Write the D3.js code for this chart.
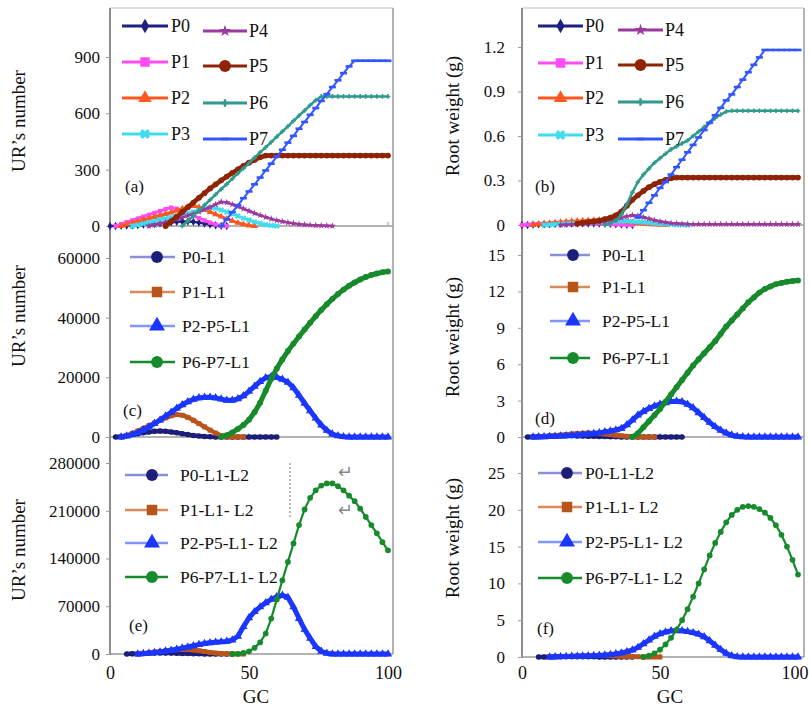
<!DOCTYPE html>
<html><head><meta charset="utf-8">
<script src="https://cdn.jsdelivr.net/npm/d3@7"></script>
<style>
body{margin:0;background:#fff}
text{font-family:"Liberation Serif","Times New Roman",serif;fill:#111}
</style>
</head><body>
<svg id="chart" width="809" height="706"></svg>
<script>
const _ = null;
const gc = [0,2,4,6,8,10,12,14,16,18,20,22,24,26,28,30,32,34,36,38,40,42,44,46,48,50,52,54,56,58,60,62,64,66,68,70,72,74,76,78,80,82,84,86,88,90,92,94,96,98,100];

// Panel (a): UR's number
const aP0 = [0,0,1,2,3,5,7,9,11,14, 17,20,22,24,24,22,18,13,8,4, 1,0,_,_,_,_,_,_,_,_, _,_,_,_,_,_,_,_,_,_, _,_,_,_,_,_,_,_,_,_, _];
const aP1 = [_,0,10,20,30,40,50,60,70,80, 90,98,92,80,68,55,42,30,18,8, 2,0,_,_,_,_,_,_,_,_, _,_,_,_,_,_,_,_,_,_, _,_,_,_,_,_,_,_,_,_, _];
const aP2 = [_,_,0,8,16,24,32,40,48,56, 64,72,82,92,102,106,100,88,75,62, 50,38,27,17,9,3,0,_,_,_, _,_,_,_,_,_,_,_,_,_, _,_,_,_,_,_,_,_,_,_, _];
const aP3 = [_,_,_,_,0,5,12,19,26,33, 40,47,54,61,68,75,83,92,98,95, 85,75,64,53,42,32,22,14,7,3, 0,_,_,_,_,_,_,_,_,_, _,_,_,_,_,_,_,_,_,_, _];
const aP4 = [_,_,_,_,_,_,_,0,5,12, 20,28,36,45,55,65,76,88,100,115, 128,125,115,104,92,80,68,57,47,38, 30,24,18,14,10,7,5,3,2,1, 0,_,_,_,_,_,_,_,_,_, _];
const aP5 = [_,_,_,_,_,_,_,_,_,_, 0,25,50,75,100,125,150,175,200,222, 243,263,283,302,320,337,352,366,375,375, 375,375,375,375,375,375,375,375,375,375, 375,375,375,375,375,375,375,375,375,375, 375];
const aP6 = [_,_,_,_,_,_,_,_,_,_, _,_,_,0,26,55,83,112,139,168, 196,223,252,280,307,335,364,392,419,447, 476,503,531,560,588,615,643,670,690,690, 690,690,690,690,690,690,690,690,690,690, 690];
const aP7 = [_,_,_,_,_,_,_,_,_,_, _,_,_,_,_,_,_,_,_,_, 0,36,74,110,148,184,222,258,296,332, 370,406,444,480,518,554,592,628,666,702, 740,776,814,850,880,880,880,880,880,880, 880];

// Panel (b): root weight (g)
const bP0 = [0,0,0.002,0.004,0.005,0.006,0.007,0.008,0.009,0.01, 0.01,0.01,0.01,0.01,0.009,0.008,0.007,0.005,0.003,0.001, 0,_,_,_,_,_,_,_,_,_, _,_,_,_,_,_,_,_,_,_, _,_,_,_,_,_,_,_,_,_, _];
const bP1 = [0,0.003,0.006,0.008,0.01,0.012,0.013,0.014,0.015,0.015, 0.015,0.014,0.013,0.012,0.01,0.008,0.006,0.004,0.002,0.001, 0,_,_,_,_,_,_,_,_,_, _,_,_,_,_,_,_,_,_,_, _,_,_,_,_,_,_,_,_,_, _];
const bP2 = [_,_,0,0.004,0.008,0.012,0.016,0.019,0.022,0.025, 0.027,0.029,0.031,0.033,0.034,0.035,0.034,0.031,0.027,0.022, 0.017,0.012,0.008,0.005,0.003,0.001,0,_,_,_, _,_,_,_,_,_,_,_,_,_, _,_,_,_,_,_,_,_,_,_, _];
const bP3 = [_,_,_,_,0,0.002,0.004,0.006,0.008,0.01, 0.012,0.014,0.016,0.018,0.02,0.022,0.024,0.026,0.027,0.026, 0.024,0.021,0.018,0.015,0.012,0.009,0.006,0.004,0.002,0.001, 0,_,_,_,_,_,_,_,_,_, _,_,_,_,_,_,_,_,_,_, _];
const bP4 = [_,_,_,_,_,_,_,0,0.002,0.004, 0.006,0.008,0.011,0.014,0.018,0.023,0.03,0.038,0.048,0.058, 0.066,0.062,0.052,0.042,0.032,0.024,0.018,0.013,0.01,0.008, 0.006,0.005,0.005,0.005,0.005,0.005,0.005,0.005,0.005,0.005, 0.005,0.005,0.005,0.005,0.005,0.005,0.005,0.005,0.005,0.005, 0.005];
const bP5 = [_,_,_,_,_,_,_,_,_,_, 0.01,0.015,0.02,0.025,0.03,0.04,0.05,0.065,0.09,0.13, 0.17,0.2,0.23,0.255,0.275,0.29,0.305,0.315,0.32,0.32, 0.32,0.32,0.32,0.32,0.32,0.32,0.32,0.32,0.32,0.32, 0.32,0.32,0.32,0.32,0.32,0.32,0.32,0.32,0.32,0.32, 0.32];
const bP6 = [_,_,_,_,_,_,_,_,_,_, _,_,_,_,_,0,0.01,0.03,0.07,0.14, 0.22,0.29,0.34,0.38,0.42,0.45,0.48,0.51,0.53,0.55, 0.57,0.6,0.63,0.66,0.69,0.72,0.745,0.765,0.77,0.77, 0.77,0.77,0.77,0.77,0.77,0.77,0.77,0.77,0.77,0.77, 0.77];
const bP7 = [_,_,_,_,_,_,_,_,_,_, _,_,_,_,_,_,_,_,_,_, _,0.05,0.1,0.15,0.2,0.25,0.29,0.34,0.39,0.44, 0.49,0.54,0.59,0.64,0.69,0.74,0.79,0.84,0.88,0.93, 0.98,1.03,1.08,1.13,1.18,1.18,1.18,1.18,1.18,1.18, 1.18];

// Panel (c): UR's number, L1
const cP0 = [_,0,200,500,800,1100,1400,1700,1900,2000, 1900,1700,1400,1100,800,500,300,150,50,0, 0,0,0,0,0,0,0,0,0,0, 0,_,_,_,_,_,_,_,_,_, _,_,_,_,_,_,_,_,_,_, _];
const cP1 = [_,_,0,500,1200,2000,2900,3800,4700,5600, 6400,7100,7500,7300,6600,5600,4500,3400,2300,1300, 500,0,0,0,0,_,_,_,_,_, _,_,_,_,_,_,_,_,_,_, _,_,_,_,_,_,_,_,_,_, _];
const cP2 = [_,_,0,300,800,1500,2400,3400,4500,5700, 7000,8300,9600,10800,11800,12600,13100,13300,13300,13100, 12700,12300,12300,12800,13800,15300,17000,18600,19800,20300, 20000,19300,18300,16500,14000,11300,8800,6300,4000,2200, 1000,400,100,0,0,0,0,0,0,0, 0];
const cP6 = [_,_,_,_,_,_,_,_,_,_, _,_,_,_,_,_,_,_,_,_, 0,600,1500,2700,4000,5800,8300,11500,15500,19500, 23000,26000,28800,31300,33700,36000,38300,40500,42600,44500, 46300,47900,49400,50700,51800,52800,53600,54300,54800,55200, 55500];

// Panel (d): root weight (g), L1
const dP0 = [_,0,0.02,0.04,0.06,0.08,0.09,0.1,0.1,0.1, 0.09,0.08,0.07,0.06,0.05,0.04,0.03,0.02,0.01,0, 0,0,0,0,0,0,0,0,0,0, _,_,_,_,_,_,_,_,_,_, _,_,_,_,_,_,_,_,_,_, _];
const dP1 = [_,_,0,0.02,0.05,0.08,0.12,0.16,0.2,0.24, 0.28,0.31,0.33,0.32,0.29,0.25,0.2,0.15,0.1,0.06, 0.03,0.01,0,0,0,_,_,_,_,_, _,_,_,_,_,_,_,_,_,_, _,_,_,_,_,_,_,_,_,_, _];
const dP2 = [_,_,0,0.01,0.02,0.04,0.06,0.08,0.1,0.13, 0.16,0.2,0.24,0.29,0.35,0.42,0.5,0.58,0.7,1.0, 1.4,1.8,2.1,2.35,2.55,2.7,2.82,2.92,2.95,2.9, 2.7,2.4,2.0,1.6,1.2,0.85,0.55,0.32,0.15,0.06, 0.02,0,0,0,0,0,0,0,0,0, 0];
const dP6 = [_,_,_,_,_,_,_,_,_,_, _,_,_,_,_,_,_,_,_,_, 0,0.3,0.8,1.3,1.8,2.3,2.9,3.5,4.1,4.7, 5.3,5.9,6.4,6.9,7.4,7.9,8.5,9.1,9.6,10.1, 10.6,11.1,11.5,11.9,12.2,12.4,12.6,12.7,12.8,12.85, 12.9];

// Panel (e): UR's number, L1-L2
const eP0 = [_,_,_,0,200,500,800,1100,1300,1400, 1400,1300,1100,900,700,500,300,150,50,0, 0,0,0,_,_,_,_,_,_,_, _,_,_,_,_,_,_,_,_,_, _,_,_,_,_,_,_,_,_,_, _];
const eP1 = [_,_,_,_,_,0,800,1800,2800,3800, 4800,5600,6200,6500,6400,5800,4800,3600,2400,1400, 600,200,0,0,0,_,_,_,_,_, _,_,_,_,_,_,_,_,_,_, _,_,_,_,_,_,_,_,_,_, _];
const eP2 = [_,_,_,_,_,0,500,1200,2000,3000, 4200,5500,7000,8600,10200,12000,13800,15300,16500,17300, 17800,18500,20500,26000,40000,53000,62000,69000,75000,80000, 84000,86000,83000,69000,52000,36000,23000,11000,4000,1000, 0,0,0,0,0,0,0,0,0,0, 0];
const eP6 = [_,_,_,_,_,_,_,_,_,_, _,_,_,_,_,_,_,_,_,_, _,_,0,300,1500,4000,9000,17000,30000,52000, 80000,108000,135000,162000,189000,212000,229000,240000,247000,250000, 250000,246000,240000,232000,224000,213000,201000,189000,177000,164000, 152000];

// Panel (f): root weight (g), L1-L2
const fP0 = [_,_,_,0,0.01,0.02,0.03,0.04,0.05,0.05, 0.05,0.04,0.03,0.02,0.01,0,0,0,0,0, 0,_,_,_,_,_,_,_,_,_, _,_,_,_,_,_,_,_,_,_, _,_,_,_,_,_,_,_,_,_, _];
const fP1 = [_,_,_,_,_,0,0.02,0.05,0.08,0.11, 0.14,0.17,0.19,0.2,0.2,0.19,0.17,0.14,0.11,0.08, 0.05,0.03,0.01,0,0,0,_,_,_,_, _,_,_,_,_,_,_,_,_,_, _,_,_,_,_,_,_,_,_,_, _];
const fP2 = [_,_,_,_,_,0,0.02,0.04,0.06,0.08, 0.1,0.12,0.15,0.18,0.22,0.27,0.33,0.42,0.55,0.72, 0.95,1.3,1.8,2.3,2.8,3.15,3.4,3.55,3.6,3.55, 3.45,3.3,3.1,2.75,2.2,1.6,1.0,0.5,0.15,0.03, 0,0,0,0,0,0,0,0,0,0, 0];
const fP6 = [_,_,_,_,_,_,_,_,_,_, _,_,_,_,_,_,_,_,_,_, _,_,0,0.2,0.5,1.0,1.7,2.6,3.7,5.0, 6.5,8.2,10.0,11.9,13.8,15.5,17.0,18.3,19.3,20.0, 20.4,20.5,20.4,20.1,19.6,18.9,17.9,16.6,15.0,13.2, 11.2];

// Tick labels
const xTicks = [0,50,100];
const ticksA = [0,300,600,900];
const ticksB = [0,0.3,0.6,0.9,1.2];
const ticksC = [0,20000,40000,60000];
const ticksD = [0,3,6,9,12,15];
const ticksE = [0,70000,140000,210000,280000];
const ticksF = [0,5,10,15,20,25];

const namesTop = ["P0","P1","P2","P3","P4","P5","P6","P7"];
const namesL1 = ["P0-L1","P1-L1","P2-P5-L1","P6-P7-L1"];
const namesL2 = ["P0-L1-L2","P1-L1- L2","P2-P5-L1- L2","P6-P7-L1- L2"];

const SERIF = "'Liberation Serif', 'Times New Roman', Times, serif";

// ---------- styles ----------
const styleTop = [
  {color:"#1d1f82", w:2.5, m:"diamond", ms:20, lms:60},
  {color:"#ff4cf5", w:3,   m:"square",  ms:18, lms:90},
  {color:"#ff5720", w:3,   m:"triangle",ms:20, lms:80},
  {color:"#3fdcef", w:2.5, m:"xcross",  ms:22, lms:60},
  {color:"#9b3a9e", w:2.5, m:"star",    ms:16, lms:45},
  {color:"#8e2306", w:4.5, m:"circle",  ms:26, lms:110},
  {color:"#2f9a8d", w:2.5, m:"cross",   ms:12, lms:30},
  {color:"#3355ff", w:2,   m:"dash",    ms:14, lms:30}
];
const styleL1 = [
  {color:"#1c1f7a", lcolor:"#8a8fd8", w:4.5, m:"circle",   ms:24, lms:110},
  {color:"#b9541b", lcolor:"#d98a5a", w:4.5, m:"square",   ms:24, lms:110},
  {color:"#1a36ff", lcolor:"#7f95ff", w:5,   m:"triangle", ms:30, lms:110},
  {color:"#178a2b", lcolor:"#178a2b", w:5,   m:"circle",   ms:28, lms:110}
];
const styleL2 = [
  {color:"#1c1f7a", lcolor:"#8a8fd8", w:4.5, m:"circle",   ms:24, lms:110},
  {color:"#b9541b", lcolor:"#d98a5a", w:4.5, m:"square",   ms:24, lms:110},
  {color:"#1a36ff", lcolor:"#7f95ff", w:5,   m:"triangle", ms:30, lms:110},
  {color:"#178a2b", lcolor:"#178a2b", w:2.2, m:"circle",   ms:26, lms:110}
];

const cols = {
  L:{x0:110, x1:388, right:393, tickPad:6,  titleX:18},
  R:{x0:522, x1:798, right:804, tickPad:13, titleX:452}
};

const panels = [
  {col:"L", top:8,   zeroY:226, tickY:57,  tickV:900,    ticks:ticksA, title:"UR’s number",   titleY:121, label:"(a)", lx:125, ly:192,
   data:[aP0,aP1,aP2,aP3,aP4,aP5,aP6,aP7], names:namesTop, styles:styleTop,
   legend:[[122,168,171,26],[122,168,171,62],[122,168,171,98],[122,168,171,134],[203,247,249,31],[203,247,249,66],[203,247,249,103],[203,247,249,139]]},
  {col:"R", top:8,   zeroY:225, tickY:47,  tickV:1.2,    ticks:ticksB, title:"Root weight (g)", titleY:116, label:"(b)", lx:535, ly:192,
   data:[bP0,bP1,bP2,bP3,bP4,bP5,bP6,bP7], names:namesTop, styles:styleTop,
   legend:[[538,583,585,26],[538,583,585,63],[538,583,585,98],[538,583,585,135],[618,663,665,30],[618,663,665,65],[618,663,665,102],[618,663,665,139]]},
  {col:"L", top:226, zeroY:437, tickY:258, tickV:60000,  ticks:ticksC, title:"UR’s number",   titleY:316, label:"(c)", lx:123, ly:416,
   data:[cP0,cP1,cP2,cP6], names:namesL1, styles:styleL1,
   legend:[[130,175,182,257,157],[130,175,182,292,157],[130,175,182,326,157],[130,175,182,362,157]]},
  {col:"R", top:225, zeroY:437, tickY:255, tickV:15,     ticks:ticksD, title:"Root weight (g)", titleY:337, label:"(d)", lx:535, ly:424,
   data:[dP0,dP1,dP2,dP6], names:namesL1, styles:styleL1,
   legend:[[550,590,602,255,573],[550,590,602,287,573],[550,590,602,321,573],[550,590,602,358,573]]},
  {col:"L", top:437, zeroY:654, tickY:463, tickV:280000, ticks:ticksE, title:"UR’s number",   titleY:550, label:"(e)", lx:129, ly:631,
   data:[eP0,eP1,eP2,eP6], names:namesL2, styles:styleL2,
   legend:[[125,168,180,475,152],[125,168,180,510,152],[125,168,180,543,152],[125,168,180,577,152]]},
  {col:"R", top:437, zeroY:657, tickY:473, tickV:25,     ticks:ticksF, title:"Root weight (g)", titleY:538, label:"(f)", lx:537, ly:634,
   data:[fP0,fP1,fP2,fP6], names:namesL2, styles:styleL2,
   legend:[[538,582,585,473,567],[538,582,585,507,567],[538,582,585,542,567],[538,582,585,578,567]]}
];

const svg = d3.select("#chart");
svg.append("rect").attr("width",809).attr("height",706).attr("fill","#fff");

const symMap = {circle:d3.symbolCircle, square:d3.symbolSquare, diamond:d3.symbolDiamond, triangle:d3.symbolTriangle, star:d3.symbolStar, cross:d3.symbolCross, xcross:d3.symbolCross};
function marker(g, st, size, cx, cy) {
  if (st.m === "dash") {
    g.append("rect").attr("x",cx-3.5).attr("y",cy-1.3).attr("width",7).attr("height",2.6).attr("fill",st.color);
    return;
  }
  g.append("path").attr("d", d3.symbol().type(symMap[st.m]).size(size)())
    .attr("fill", st.color)
    .attr("transform", `translate(${cx},${cy})` + (st.m==="xcross" ? " rotate(45)" : ""));
}

// frames
["L","R"].forEach(k => {
  const c = cols[k];
  const ps = panels.filter(p => p.col === k);
  svg.append("line").attr("x1",c.x0).attr("x2",c.right).attr("y1",8).attr("y2",8).attr("stroke","#bdbdbd").attr("stroke-width",1.2);
  svg.append("line").attr("x1",c.right).attr("x2",c.right).attr("y1",8).attr("y2",ps[2].zeroY).attr("stroke","#9a9a9a").attr("stroke-width",1.5);
  ps.forEach(p => {
    svg.append("line").attr("x1",c.x0).attr("x2",c.right).attr("y1",p.zeroY).attr("y2",p.zeroY).attr("stroke","#9a9a9a").attr("stroke-width",1.5);
  });
  svg.append("line").attr("x1",c.x0).attr("x2",c.x0).attr("y1",8).attr("y2",ps[2].zeroY+1).attr("stroke","#8c8c8c").attr("stroke-width",2);
});

panels.forEach(p => {
  const c = cols[p.col];
  const x = d3.scaleLinear().domain([0,100]).range([c.x0, c.x1]);
  const y = d3.scaleLinear().domain([0,p.tickV]).range([p.zeroY, p.tickY]);
  const g = svg.append("g");

  // y axis
  const ya = g.append("g").attr("transform",`translate(${c.x0},0)`)
    .call(d3.axisLeft(y).tickValues(p.ticks).tickSize(4).tickPadding(c.tickPad).tickFormat(d => String(d)));
  ya.attr("font-family", null).attr("font-size", null);
  ya.select(".domain").remove();
  ya.selectAll(".tick line").attr("stroke","#9a9a9a");
  ya.selectAll("text").attr("font-size",17).attr("fill","#111");

  // small inner x ticks
  xTicks.forEach(t => {
    g.append("line").attr("x1",x(t)).attr("x2",x(t)).attr("y1",p.zeroY).attr("y2",p.zeroY-4).attr("stroke","#9a9a9a");
  });

  // axis title
  g.append("text").attr("transform",`translate(${c.titleX},${p.titleY}) rotate(-90)`)
    .attr("text-anchor","middle").attr("dy","0.35em").attr("font-size",19).text(p.title);

  // series
  p.data.forEach((vals,i) => {
    const st = p.styles[i];
    const pts = gc.map((d,j) => [d, vals[j]]).filter(q => q[1] !== null);
    const line = d3.line().x(q => x(q[0])).y(q => y(q[1]));
    g.append("path").attr("d", line(pts)).attr("fill","none").attr("stroke", st.color)
      .attr("stroke-width", st.w).attr("stroke-linejoin","round").attr("stroke-linecap","round");
    pts.forEach(q => marker(g, st, st.ms, x(q[0]), y(q[1])));
  });

  // legend
  p.legend.forEach((L,i) => {
    const st = p.styles[i];
    const lg = g.append("g");
    lg.append("line").attr("x1",L[0]).attr("x2",L[1]).attr("y1",L[3]).attr("y2",L[3])
      .attr("stroke", st.lcolor || st.color).attr("stroke-width", st.lcolor ? 2.5 : 3);
    const mx = L.length > 4 ? L[4] : (L[0]+L[1])/2;
    marker(lg, st, st.lms, mx, L[3]);
    lg.append("text").attr("x",L[2]).attr("y",L[3]).attr("dy","0.35em").attr("font-size", p.names.length===8 ? 18 : 17.5).text(p.names[i]);
  });

  // panel label
  g.append("text").attr("x",p.lx).attr("y",p.ly).attr("font-size",17).text(p.label);
});

// bottom x axes
["L","R"].forEach(k => {
  const c = cols[k];
  const p = panels.filter(q => q.col === k)[2];
  const x = d3.scaleLinear().domain([0,100]).range([c.x0, c.x1]);
  const xa = svg.append("g").attr("transform",`translate(0,${p.zeroY})`)
    .call(d3.axisBottom(x).tickValues(xTicks).tickSize(0).tickPadding(k==="L"?12:9));
  xa.attr("font-family", null).attr("font-size", null);
  xa.select(".domain").remove();
  xa.selectAll("text").attr("font-size",18).attr("fill","#111");
  if (k === "R") {
    xa.selectAll(".tick").filter(d => d === 100).select("text").attr("text-anchor","end").attr("x", 808 - x(100));
  }
  svg.append("text").attr("x",(c.x0+c.x1)/2 + (k==="L"?7:10)).attr("y",703).attr("text-anchor","middle").attr("font-size",19).text("GC");
});

// small document marks visible in the original figure
svg.append("line").attr("x1",290).attr("x2",290).attr("y1",463).attr("y2",518).attr("stroke","#777").attr("stroke-dasharray","2,2");
svg.append("text").attr("x",338).attr("y",478).attr("font-size",18).style("fill","#888").text("↵");
svg.append("text").attr("x",338).attr("y",516).attr("font-size",18).style("fill","#888").text("↵");

svg.selectAll("text").style("font-family", SERIF);
</script>
</body></html>
